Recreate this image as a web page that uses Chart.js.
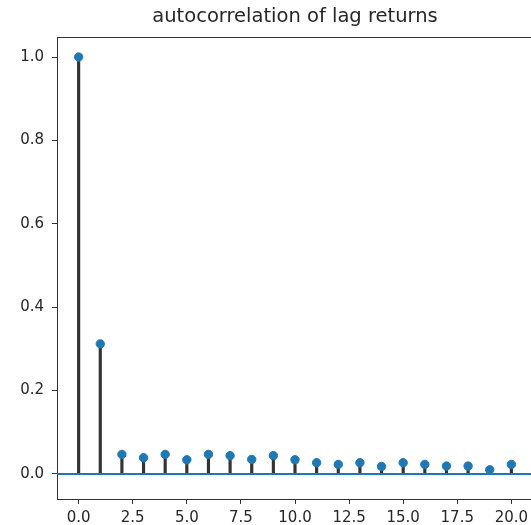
<!DOCTYPE html>
<html>
<head>
<meta charset="utf-8">
<script src="https://cdn.jsdelivr.net/npm/chart.js@4"></script>
<style>
  html, body { margin: 0; padding: 0; overflow: hidden; background: #fff; }
  #wrap { width: 584px; height: 525px; }
</style>
</head>
<body>
<div id="wrap"><canvas id="acf-chart" width="584" height="525"></canvas></div>
<script>
// lags and autocorrelation values
const lags = [0, 1, 2, 3, 4, 5, 6, 7, 8, 9, 10, 11, 12, 13, 14, 15, 16, 17, 18, 19, 20];
const acfValues = [1.0, 0.312, 0.047, 0.039, 0.047, 0.034, 0.047, 0.044, 0.035, 0.044, 0.034,
                   0.027, 0.023, 0.027, 0.018, 0.027, 0.023, 0.019, 0.019, 0.010, 0.023];
const xTicks = [0, 2.5, 5, 7.5, 10, 12.5, 15, 17.5, 20];
const yTicks = [0, 0.2, 0.4, 0.6, 0.8, 1.0];
const titleText = 'autocorrelation of lag returns';

const textColor = '#262626';
const spineColor = '#333333';

function points() {
    return lags.map((lag, i) => ({ x: lag, y: acfValues[i] }));
}

// top / right spines like matplotlib's box
const boxPlugin = {
    id: 'box',
    afterDraw(chart) {
        const { ctx, chartArea } = chart;
        ctx.save();
        ctx.strokeStyle = spineColor;
        ctx.lineWidth = 1;
        ctx.beginPath();
        ctx.moveTo(chartArea.left, chartArea.top + 0.5);
        ctx.lineTo(chartArea.right, chartArea.top + 0.5);
        ctx.lineTo(chartArea.right, chartArea.bottom);
        ctx.stroke();
        ctx.restore();
    }
};

const tickFont = { family: 'DejaVu Sans', size: 15 };

new Chart(document.querySelector('#acf-chart').getContext('2d'), {
    type: 'bar',
    data: {
        datasets: [
            {
                type: 'scatter',
                data: points(),
                backgroundColor: '#1f77b4',
                borderColor: '#1f77b4',
                pointRadius: 4.2,
                order: 0
            },
            {
                type: 'line',
                data: [{ x: -1, y: 0 }, { x: 21, y: 0 }],
                borderColor: '#1f77b4',
                borderWidth: 2,
                pointRadius: 0,
                order: 1
            },
            {
                type: 'bar',
                data: points(),
                backgroundColor: '#333333',
                barThickness: 2.5,
                order: 2
            }
        ]
    },
    options: {
        responsive: false,
        animation: false,
        layout: { padding: { left: 0, right: 51, top: 0, bottom: 0 } },
        plugins: {
            legend: { display: false },
            tooltip: { enabled: false },
            title: {
                display: true,
                text: titleText,
                fullSize: false,
                color: textColor,
                font: { family: 'DejaVu Sans', size: 19.5, weight: 'normal' },
                padding: { top: 5, bottom: 8.6 }
            }
        },
        scales: {
            x: {
                type: 'linear',
                min: -1,
                max: 21,
                offset: false,
                afterBuildTicks: scale => { scale.ticks = xTicks.map(v => ({ value: v })); },
                afterFit: scale => { scale.height = 26; },
                ticks: {
                    color: textColor,
                    font: tickFont,
                    padding: 5,
                    maxRotation: 0,
                    callback: v => Number(v).toFixed(1)
                },
                grid: { offset: false, drawOnChartArea: false, drawTicks: true, tickLength: 5, tickColor: spineColor },
                border: { display: true, color: spineColor, width: 1 }
            },
            y: {
                type: 'linear',
                min: -0.06,
                max: 1.048,
                afterBuildTicks: scale => { scale.ticks = yTicks.map(v => ({ value: v })); },
                afterFit: scale => { scale.width = 57; },
                ticks: {
                    color: textColor,
                    font: tickFont,
                    padding: 8,
                    callback: v => Number(v).toFixed(1)
                },
                grid: { drawOnChartArea: false, drawTicks: true, tickLength: 5, tickColor: spineColor },
                border: { display: true, color: spineColor, width: 1 }
            }
        }
    },
    plugins: [boxPlugin]
});
</script>
</body>
</html>
